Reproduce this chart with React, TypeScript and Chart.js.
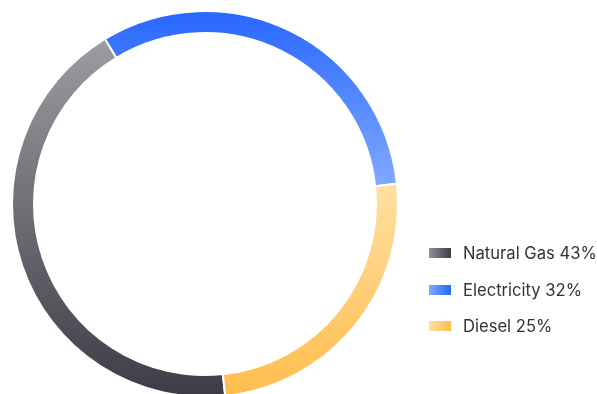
import React, { useEffect, useRef } from "react";
import { Chart, registerables } from "chart.js";

Chart.register(...registerables);

const labels = ["Natural Gas", "Electricity", "Diesel"];
const values = [43, 32, 25];
const ringTopColors = ["#9d9ca1", "#2767ff", "#fde0a2"];
const ringBottomColors = ["#3b3c45", "#80a8ff", "#ffbd4d"];
const legendLightColors = ["#929196", "#80a8ff", "#fde0a2"];
const legendDarkColors = ["#3b3c45", "#2767ff", "#ffbd4d"];
const ROTATION = 174;

function segmentGradient(c: any) {
  const i = c.dataIndex;
  const chart = c.chart;
  const area = chart.chartArea;
  if (!area || i === undefined) return ringTopColors[i ?? 0];
  const cx = (area.left + area.right) / 2;
  const cy = (area.top + area.bottom) / 2;
  const R = Math.min(area.width, area.height) / 2;
  const total = values.reduce((a, b) => a + b, 0);
  let cum = 0;
  for (let k = 0; k < i; k++) cum += values[k];
  const start = ROTATION + (360 * cum) / total;
  const end = start + (360 * values[i]) / total;
  let ymin = Infinity;
  let ymax = -Infinity;
  for (let a = start; a <= end; a += 0.5) {
    const y = cy - R * Math.cos((a * Math.PI) / 180);
    ymin = Math.min(ymin, y);
    ymax = Math.max(ymax, y);
  }
  const g = chart.ctx.createLinearGradient(0, ymin, 0, ymax);
  g.addColorStop(0, ringTopColors[i]);
  g.addColorStop(1, ringBottomColors[i]);
  return g;
}

export default function App() {
  const ref = useRef<HTMLCanvasElement>(null);
  useEffect(() => {
    if (!ref.current) return;
    const chart = new Chart(ref.current, {
      type: "doughnut",
      data: {
        labels,
        datasets: [
          {
            data: values,
            backgroundColor: segmentGradient as any,
            borderColor: "#ffffff",
            borderWidth: 2,
          },
        ],
      },
      options: {
        responsive: false,
        animation: false,
        events: [],
        rotation: ROTATION,
        cutout: 171,
        layout: { padding: { left: 11, top: 10, right: 198, bottom: 22 } },
        plugins: { legend: { display: false }, tooltip: { enabled: false } },
      } as any,
    });
    return () => chart.destroy();
  }, []);

  return (
    <div
      style={{
        position: "fixed",
        left: 0,
        top: 0,
        width: 597,
        height: 394,
        overflow: "hidden",
        background: "#ffffff",
      }}
    >
      <canvas ref={ref} width={597} height={420} style={{ display: "block" }} />
      {labels.map((l, i) => (
        <div
          key={l}
          style={{
            position: "absolute",
            left: 429,
            top: 241 + i * 36.7,
            height: 24,
            display: "flex",
            alignItems: "center",
            fontFamily: "Inter, 'Open Sans', sans-serif",
            fontSize: 16.6,
            color: "#333338",
            whiteSpace: "nowrap",
          }}
        >
          <span
            style={{
              display: "inline-block",
              width: 22,
              height: 10,
              marginRight: 12,
              background: `linear-gradient(to right, ${legendLightColors[i]}, ${legendDarkColors[i]})`,
            }}
          />
          <span>{`${l} ${values[i]}%`}</span>
        </div>
      ))}
    </div>
  );
}
